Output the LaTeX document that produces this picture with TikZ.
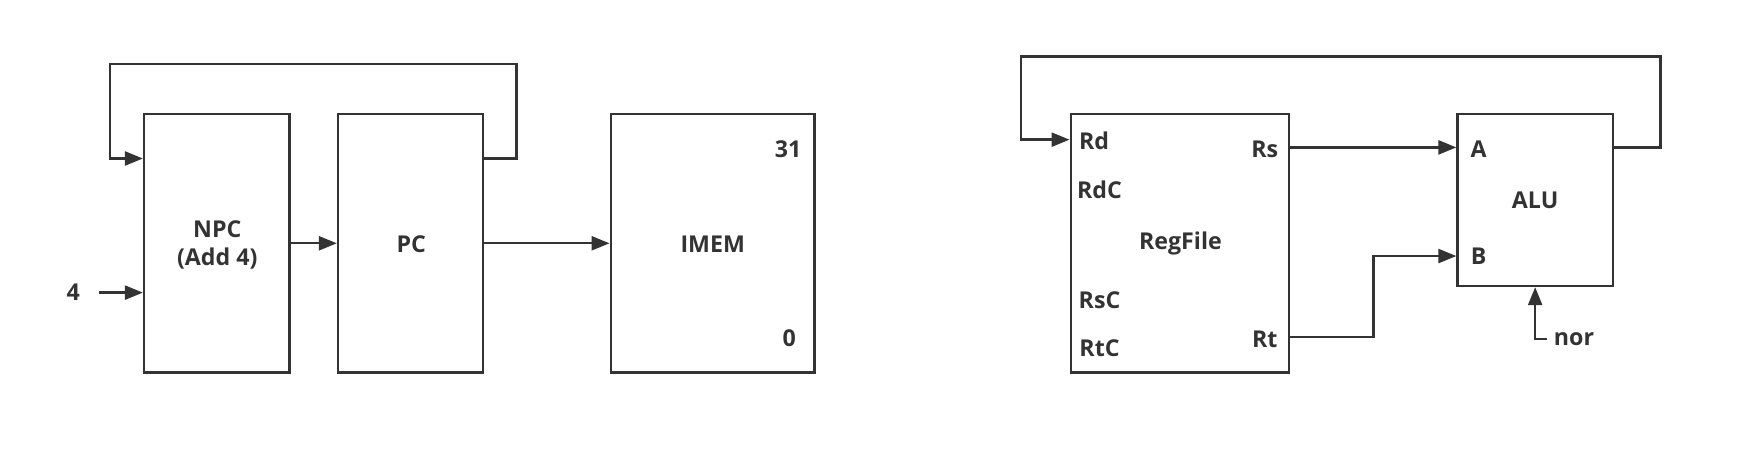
\documentclass[tikz,border=0pt]{standalone}
\usepackage{fontspec}
\setmainfont{Open Sans}
\usetikzlibrary{arrows.meta,fit}
\definecolor{ink}{RGB}{51,51,51}
\begin{document}
\begin{tikzpicture}[x=0.5542pt,y=-0.5542pt,
  font=\fontsize{11.6}{14.4}\selectfont\bfseries,
  every node/.style={text=ink},
  box/.style={draw=ink, line width=1.2pt, inner sep=0pt, fill=none},
  arr/.style={draw=ink, line width=1.2pt, -{Triangle[length=9pt,width=7pt]}},
  wire/.style={draw=ink, line width=1.2pt}]
\useasboundingbox (0,0) rectangle (1568,406);
% left part
\node[box, fit={(130,103) (261,336)}] (npc) {};
\node[box, fit={(305,103) (436,336)}] (pc) {};
\node[box, fit={(551,103) (735,336)}] (imem) {};
\node[align=center] (npct) at (196,221) {NPC\\(Add 4)};
\node (pct) at (371,220) {PC};
\node (imemt) at (643,220) {IMEM};
\node (n31) at (711,135) {31};
\node (n0) at (712,305) {0};
\node (four) at (66,264) {4};
\draw[arr] (npc.east) -- (pc.west);
\draw[arr] (pc.east) -- (imem.west);
\draw[arr, shorten <=6pt] (four.east) -- (npc.west |- four.east);
\draw[arr] (pc.east |- 0,143) -- (466,143) -- (466,58) -- (99,58) -- (99,143) -- (npc.west |- 0,143);
% right part
\node[box, fit={(966,103) (1163,336)}] (rf) {};
\node[box, fit={(1315,103) (1455,258)}] (alu) {};
\node (rft) at (1065,220) {RegFile};
\node (alut) at (1385,181) {ALU};
\node (rd) at (987,127) {Rd};
\node (rdc) at (992,171) {RdC};
\node (rsc) at (992,271) {RsC};
\node (rtc) at (992,314) {RtC};
\node (rs) at (1141,135) {Rs};
\node (rt) at (1141,306) {Rt};
\node (pa) at (1334,135) {A};
\node (pb) at (1334,231) {B};
\node (nor) at (1420,306) {nor};
\draw[arr] (rf.east |- 0,133) -- (alu.west |- 0,133);
\draw[arr] (rf.east |- 0,304) -- (1239,304) -- (1239,231) -- (alu.west |- 0,231);
\draw[arr] (nor.west) -| (alu.south);
\draw[arr] (alu.east |- 0,133) -- (1498,133) -- (1498,51) -- (921,51) -- (921,126) -- (rf.west |- 0,126);
\end{tikzpicture}
\end{document}
